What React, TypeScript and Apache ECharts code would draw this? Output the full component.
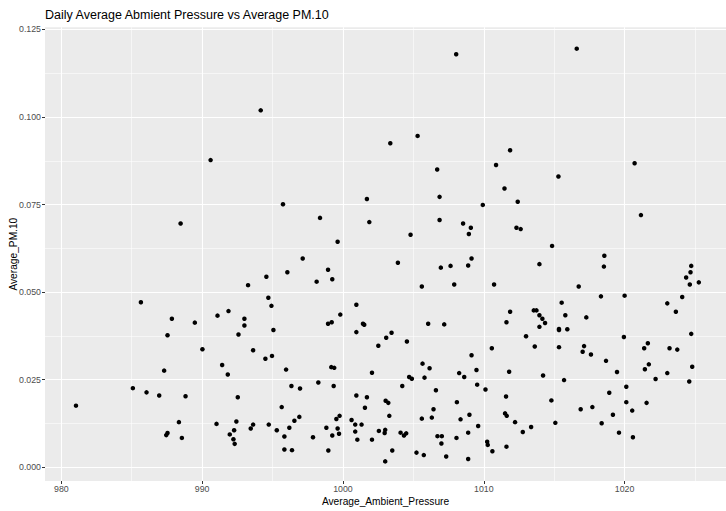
import React, { useEffect, useRef } from "react";
import * as echarts from "echarts";

const TITLE = "Daily Average Abmient Pressure vs Average PM.10";
const X_NAME = "Average_Ambient_Pressure";
const Y_NAME = "Average_PM.10";

// [Average_Ambient_Pressure, Average_PM.10]
const observations: [number, number][] = [
  [981.04, 0.0176], [985.65, 0.0471], [985.08, 0.0226], [986.05, 0.0214], [986.95, 0.0205],
  [987.3, 0.0276], [987.54, 0.0377], [987.85, 0.0424], [987.45, 0.0092], [987.54, 0.0098],
  [988.35, 0.0129], [988.56, 0.0084], [988.82, 0.0203], [989.48, 0.0413], [990.02, 0.0337],
  [991.09, 0.0433], [991.02, 0.0124], [991.42, 0.0292], [991.87, 0.0446], [991.82, 0.0265],
  [991.96, 0.0094], [992.22, 0.008], [992.31, 0.0067], [992.27, 0.0106], [992.43, 0.0131],
  [992.53, 0.02], [992.58, 0.0379], [993.0, 0.0424], [993.0, 0.0405], [993.26, 0.052],
  [993.62, 0.0334], [993.45, 0.0111], [993.62, 0.0122], [994.56, 0.0544], [994.49, 0.031],
  [994.7, 0.0484], [994.73, 0.0122],
  [988.47, 0.0696], [990.6, 0.0877], [994.16, 0.1019],
  [997.14, 0.0596], [996.05, 0.0557], [998.94, 0.0564], [998.13, 0.053], [999.24, 0.0537],
  [1003.9, 0.0584], [994.92, 0.0461], [1000.95, 0.0464], [999.81, 0.0436], [998.94, 0.041],
  [999.2, 0.0414], [1001.42, 0.041], [1001.51, 0.0407], [995.06, 0.0392], [1000.95, 0.0386],
  [1003.45, 0.0384], [1003.07, 0.037], [1004.54, 0.0359], [1002.51, 0.0347], [994.96, 0.0318],
  [995.96, 0.0279], [999.17, 0.0286], [999.38, 0.0284], [1002.06, 0.027], [1004.7, 0.0258],
  [1004.89, 0.0253], [996.34, 0.0232], [996.95, 0.0225], [998.25, 0.0242], [999.34, 0.0232],
  [1004.21, 0.0232], [1000.95, 0.0205], [1001.7, 0.02], [1003.03, 0.019], [1003.22, 0.0184],
  [1001.56, 0.017], [995.65, 0.0172], [996.9, 0.0144], [996.55, 0.0133], [999.76, 0.0147],
  [999.53, 0.0138], [1000.61, 0.0135], [1003.29, 0.0147], [1000.87, 0.0122], [1001.32, 0.0122],
  [995.3, 0.0106], [996.19, 0.0113], [995.84, 0.0088], [998.82, 0.0113], [999.62, 0.0111],
  [999.24, 0.0091], [999.72, 0.0096], [997.87, 0.0086], [1000.87, 0.0102], [1001.02, 0.0079],
  [1002.55, 0.0104], [1003.0, 0.0107], [1002.96, 0.0098], [1002.06, 0.0079], [1004.09, 0.0099],
  [1004.33, 0.0091], [1004.49, 0.0097], [995.84, 0.0051], [996.38, 0.0049], [998.96, 0.0048],
  [1003.5, 0.0048], [1003.0, 0.0017], [1005.22, 0.0042],
  [995.74, 0.0751], [998.37, 0.0712], [999.62, 0.0644], [1001.7, 0.0766], [1001.87, 0.07],
  [1003.36, 0.0925], [1005.3, 0.0946], [1004.8, 0.0664],
  [1005.6, 0.0516], [1006.95, 0.057], [1007.64, 0.0575], [1008.89, 0.0576], [1009.13, 0.0596],
  [1007.9, 0.0522], [1010.73, 0.0522], [1013.95, 0.058], [1015.53, 0.047], [1015.79, 0.0434],
  [1011.87, 0.0444], [1013.55, 0.0448], [1013.74, 0.0448], [1013.95, 0.0434], [1014.16, 0.0424],
  [1014.35, 0.0412], [1013.95, 0.0401], [1011.61, 0.0414], [1006.05, 0.041], [1007.19, 0.0408],
  [1015.34, 0.0395], [1015.34, 0.0392], [1015.93, 0.0394], [1013.0, 0.0374], [1013.62, 0.0345],
  [1015.34, 0.0343], [1010.57, 0.034], [1009.13, 0.032], [1005.65, 0.0296], [1006.15, 0.0283],
  [1005.79, 0.0256], [1008.25, 0.0269], [1008.61, 0.0258], [1009.48, 0.0278], [1011.8, 0.0273],
  [1014.21, 0.0262], [1015.7, 0.0249], [1006.6, 0.022], [1009.53, 0.0236], [1010.12, 0.0222],
  [1011.58, 0.0202], [1014.8, 0.0191], [1008.09, 0.0186], [1006.43, 0.0166], [1005.6, 0.0139],
  [1006.31, 0.0142], [1008.35, 0.0137], [1008.98, 0.015], [1011.51, 0.0154], [1011.63, 0.0147],
  [1012.22, 0.0129], [1009.6, 0.0118], [1008.89, 0.0099], [1006.71, 0.0089], [1007.02, 0.0089],
  [1006.99, 0.0068], [1008.06, 0.0084], [1012.77, 0.0101], [1013.36, 0.0115], [1015.08, 0.0127],
  [1010.24, 0.0073], [1010.28, 0.0064], [1010.61, 0.0046], [1011.61, 0.0059], [1005.74, 0.0035],
  [1007.33, 0.0031], [1008.89, 0.0024],
  [1008.04, 0.1179], [1006.69, 0.085], [1006.86, 0.0772], [1006.86, 0.0706], [1008.53, 0.0696],
  [1009.08, 0.0684], [1008.94, 0.0666], [1009.93, 0.0749], [1010.87, 0.0863], [1011.87, 0.0905],
  [1011.47, 0.0796], [1012.41, 0.0758], [1012.32, 0.0684], [1012.62, 0.068], [1015.3, 0.083],
  [1014.85, 0.0632],
  [1018.56, 0.0604], [1018.53, 0.0573], [1016.74, 0.0516], [1018.32, 0.0488], [1020.0, 0.049],
  [1017.28, 0.0428], [1019.95, 0.0372], [1017.12, 0.0346], [1017.02, 0.033], [1017.61, 0.0322],
  [1018.68, 0.0304], [1019.46, 0.0272], [1018.91, 0.0213], [1020.12, 0.023], [1020.12, 0.0186],
  [1020.54, 0.0162], [1021.56, 0.0184], [1016.88, 0.0166], [1017.71, 0.0172], [1019.17, 0.015],
  [1018.37, 0.0126], [1019.6, 0.0099], [1020.59, 0.0086], [1021.39, 0.034], [1021.65, 0.0354],
  [1021.44, 0.028], [1021.72, 0.0294], [1022.2, 0.0252], [1023.03, 0.0269], [1023.19, 0.034],
  [1023.74, 0.0336], [1023.03, 0.0468], [1023.64, 0.0444], [1024.09, 0.0486], [1024.37, 0.0542],
  [1024.73, 0.0575], [1024.68, 0.0557], [1024.63, 0.0522], [1025.27, 0.0528], [1024.73, 0.0381],
  [1024.8, 0.0287], [1024.59, 0.0245],
  [1016.6, 0.1195], [1020.71, 0.0868], [1021.16, 0.072],
];

const xMajorTicks = [980, 990, 1000, 1010, 1020];
const xMinorTicks = [985, 995, 1005, 1015, 1025];
const yMajorTicks = [0, 0.025, 0.05, 0.075, 0.1, 0.125];
const yMinorTicks = [0.0125, 0.0375, 0.0625, 0.0875, 0.1125];

const X_MIN = 978.84;
const X_MAX = 1027.2;
const Y_MIN = -0.0039;
const Y_MAX = 0.1256;

const FONT = "'Liberation Sans', Arial, Helvetica, sans-serif";

export default function App() {
  const ref = useRef<HTMLDivElement>(null);

  useEffect(() => {
    if (!ref.current) return;
    const chart = echarts.init(ref.current, undefined, { renderer: "svg" });
    const option: any = {
      animation: false,
      backgroundColor: "#FFFFFF",
      textStyle: { fontFamily: FONT },
      title: {
        text: TITLE,
        left: 45,
        top: 8,
        padding: 0,
        textStyle: { fontFamily: FONT, fontSize: 12.5, fontWeight: "normal", color: "#000000" },
      },
      grid: {
        left: 45,
        right: 0,
        top: 27.3,
        bottom: 30,
        show: true,
        backgroundColor: "#EBEBEB",
        borderWidth: 0,
        containLabel: false,
        outerBoundsMode: "none",
      },
      xAxis: [
        {
          type: "value",
          min: X_MIN,
          max: X_MAX,
          position: "bottom",
          name: X_NAME,
          nameLocation: "middle",
          nameGap: 15,
          nameMoveOverlap: false,
          nameTextStyle: { fontFamily: FONT, fontSize: 10.2, color: "#000000" },
          axisLine: { show: false, onZero: false },
          axisTick: { show: true, length: 3, lineStyle: { color: "#333333", width: 1 }, customValues: xMajorTicks },
          axisLabel: {
            customValues: xMajorTicks,
            color: "#4D4D4D",
            fontSize: 8.8,
            margin: 3,
            fontFamily: FONT,
            formatter: (v: number) => String(Math.round(v)),
          },
          splitLine: { show: true, lineStyle: { color: "#FFFFFF", width: 1.1 } },
        },
        {
          type: "value",
          min: X_MIN,
          max: X_MAX,
          position: "bottom",
          axisLine: { show: false, onZero: false },
          axisTick: { show: false, customValues: xMinorTicks },
          axisLabel: { show: false, customValues: xMinorTicks },
          splitLine: { show: true, lineStyle: { color: "#FFFFFF", width: 0.55 } },
        },
      ],
      yAxis: [
        {
          type: "value",
          min: Y_MIN,
          max: Y_MAX,
          position: "left",
          name: Y_NAME,
          nameLocation: "middle",
          nameGap: 27,
          nameRotate: 90,
          nameMoveOverlap: false,
          nameTextStyle: { fontFamily: FONT, fontSize: 10.2, color: "#000000" },
          axisLine: { show: false, onZero: false },
          axisTick: { show: true, length: 3, lineStyle: { color: "#333333", width: 1 }, customValues: yMajorTicks },
          axisLabel: {
            customValues: yMajorTicks,
            color: "#4D4D4D",
            fontSize: 8.8,
            margin: 4,
            fontFamily: FONT,
            formatter: (v: number) => v.toFixed(3),
          },
          splitLine: { show: true, lineStyle: { color: "#FFFFFF", width: 1.1 } },
        },
        {
          type: "value",
          min: Y_MIN,
          max: Y_MAX,
          position: "left",
          axisLine: { show: false, onZero: false },
          axisTick: { show: false, customValues: yMinorTicks },
          axisLabel: { show: false, customValues: yMinorTicks },
          splitLine: { show: true, lineStyle: { color: "#FFFFFF", width: 0.55 } },
        },
      ],
      series: [
        {
          type: "scatter",
          xAxisIndex: 0,
          yAxisIndex: 0,
          data: observations,
          symbol: "circle",
          symbolSize: 4.5,
          itemStyle: { color: "#000000", opacity: 1 },
          silent: true,
        },
      ],
    };
    chart.setOption(option);
    return () => {
      chart.dispose();
    };
  }, []);

  return (
    <div
      ref={ref}
      style={{ position: "fixed", left: 0, top: 0, width: 726, height: 511 }}
    />
  );
}
